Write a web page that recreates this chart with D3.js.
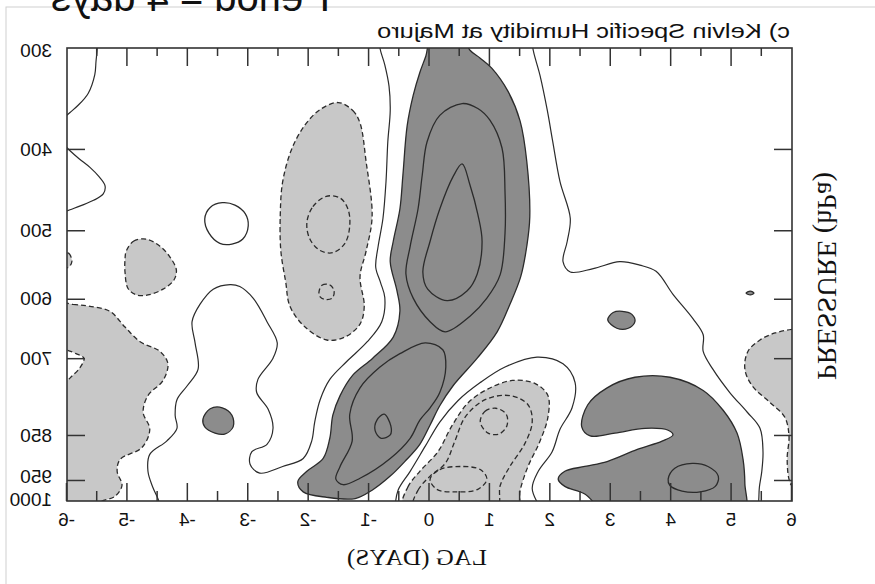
<!DOCTYPE html>
<html>
<head>
<meta charset="utf-8">
<script src="https://cdn.jsdelivr.net/npm/d3@7"></script>
<style>
  body { margin: 0; background: #fff; }
  svg { display: block; }
</style>
</head>
<body>
<svg id="chart" width="875" height="584"></svg>
<script>
// ---- axis values ----
const lagTicks = [-6, -5, -4, -3, -2, -1, 0, 1, 2, 3, 4, 5, 6];
const lagHalfTicks = [-5.5, -4.5, -3.5, -2.5, -1.5, -0.5, 0.5, 1.5, 2.5, 3.5, 4.5, 5.5];
const pressureTicks = [300, 400, 500, 600, 700, 850, 950, 1000];
const pressureInnerTicks = [400, 500, 600, 700, 850, 950];

// ---- contours, each point is [lag (days), pressure (hPa)] ----
// zero contours (solid, open lines)
const zeroWestTop = [[-5.50,292],[-5.50,300],[-5.52,312],[-5.54,324],[-5.65,342],[-5.82,354],[-5.95,361],[-6.08,368]];
const zeroWestBulge = [[-6.08,393],[-5.95,402],[-5.80,411],[-5.62,421],[-5.47,432],[-5.37,443],[-5.40,453],[-5.56,461],[-5.78,468],[-5.95,473],[-6.08,477]];
const zeroCentral = [[-0.82,292],[-0.82,300],[-0.74,315],[-0.67,335],[-0.65,359],[-0.69,392],[-0.72,438],[-0.77,484],[-0.85,522],[-0.89,552],[-0.81,575],[-0.74,598],[-0.79,637],[-1.03,671],[-1.37,706],[-1.65,739],[-1.81,778],[-1.90,823],[-1.95,863],[-2.09,901],[-2.43,919],[-2.81,934],[-2.97,914],[-2.94,886],[-2.69,870],[-2.59,836],[-2.67,797],[-2.86,764],[-2.84,739],[-2.59,700],[-2.52,673],[-2.69,637],[-2.92,599],[-3.14,581],[-3.30,578],[-3.58,585],[-3.80,609],[-3.93,637],[-3.88,673],[-3.83,720],[-4.01,751],[-4.18,778],[-4.21,809],[-4.18,836],[-4.35,863],[-4.63,892],[-4.66,930],[-4.58,967],[-4.49,996],[-4.46,1015]];
const zeroEast = [[1.71,292],[1.71,300],[1.83,325],[1.95,359],[2.04,392],[2.16,438],[2.33,484],[2.28,515],[2.21,544],[2.33,559],[2.71,554],[3.15,544],[3.48,549],[3.75,558],[4.03,593],[4.36,632],[4.53,659],[4.53,688],[4.69,720],[4.97,764],[5.26,803],[5.47,836],[5.52,886],[5.50,930],[5.46,967],[5.45,996],[5.44,1015]];
const zeroLower = [[-0.57,1015],[-0.52,974],[-0.32,930],[-0.07,874],[0.17,823],[0.47,780],[0.84,745],[1.25,716],[1.78,698],[2.21,710],[2.41,745],[2.36,794],[2.16,838],[2.03,886],[1.80,930],[1.70,970],[1.83,1015]];
const zeroRing = [[-3.72,485],[-3.63,470],[-3.43,464],[-3.22,467],[-3.05,478],[-3.00,494],[-3.09,512],[-3.27,519],[-3.47,518],[-3.65,504]];

// negative regions (light shading, dashed outline)
const dryWestEdge = [[-6.3,606],[-5.9,609],[-5.62,612],[-5.29,620],[-5.04,646],[-4.79,671],[-4.46,688],[-4.33,710],[-4.41,741],[-4.66,770],[-4.74,803],[-4.63,838],[-4.76,877],[-5.12,903],[-5.17,930],[-5.09,963],[-5.21,989],[-5.45,1003],[-5.6,1030],[-6.3,1030]];
const dryWestBlob = [[-5.02,529],[-4.90,515],[-4.69,512],[-4.46,522],[-4.29,538],[-4.19,556],[-4.23,571],[-4.41,585],[-4.66,594],[-4.85,594],[-4.99,584],[-5.04,559],[-5.04,541]];
const dryWestNub = [[-6.1,530],[-5.97,532],[-5.93,538],[-5.92,544],[-5.95,550],[-6.0,553],[-6.1,555]];
const dryUpper = [[-1.51,351],[-1.27,359],[-1.15,372],[-1.05,414],[-0.95,482],[-1.05,529],[-1.15,566],[-1.08,612],[-1.15,641],[-1.40,663],[-1.70,668],[-2.06,646],[-2.31,612],[-2.38,574],[-2.46,529],[-2.47,479],[-2.43,438],[-2.28,400],[-2.06,374],[-1.81,358]];
const dryLower = [[-0.44,1015],[-0.36,967],[-0.16,930],[0.14,886],[0.37,831],[0.64,784],[0.97,757],[1.37,741],[1.75,747],[1.96,770],[1.96,813],[1.83,863],[1.63,919],[1.50,974],[1.45,1017],[0.5,1035]];
const dryEastEdge = [[6.3,648],[6.0,650],[5.72,656],[5.47,668],[5.27,688],[5.22,720],[5.34,751],[5.64,784],[5.88,813],[5.95,852],[5.92,901],[5.95,948],[6.0,963],[6.3,965]];
// unshaded notch inside the western dry region
const dryWestNotch = [[-6.1,684],[-5.99,686],[-5.85,692],[-5.72,700],[-5.79,718],[-5.92,733],[-6.0,741],[-6.1,743]];
// deeper negative contours (dashed)
const dryUpperCore = [[-2.03,490],[-1.93,469],[-1.71,456],[-1.48,458],[-1.35,472],[-1.32,494],[-1.40,518],[-1.60,531],[-1.81,528],[-1.98,512]];
const dryUpperSpot = [[-1.83,590],[-1.78,579],[-1.66,578],[-1.58,587],[-1.61,599],[-1.73,601],[-1.81,597]];
const dryLowerMid = [[-0.27,1017],[-0.19,974],[0.01,941],[0.26,912],[0.42,863],[0.59,813],[0.92,778],[1.33,770],[1.63,788],[1.70,823],[1.58,868],[1.33,919],[1.17,963],[1.12,1017],[0.42,1035]];
const dryLowerCore = [[0.84,823],[0.92,801],[1.10,795],[1.27,807],[1.28,831],[1.15,848],[0.97,846]];
const dryLowerBase = [[0.01,948],[0.17,926],[0.51,919],[0.84,926],[0.95,948],[0.80,972],[0.42,978],[0.12,972]];

// positive regions (dark shading, solid outline)
const moistMain = [[-0.06,307],[0.04,290],[0.54,290],[0.67,302],[0.84,309],[1.03,318],[1.30,340],[1.50,370],[1.61,414],[1.66,482],[1.61,522],[1.51,566],[1.33,609],[1.12,654],[0.79,700],[0.39,751],[0.17,790],[0.01,829],[-0.16,870],[-0.41,908],[-0.65,941],[-0.95,974],[-1.23,994],[-1.70,991],[-2.09,978],[-2.18,954],[-2.03,930],[-1.76,901],[-1.65,857],[-1.60,809],[-1.48,770],[-1.27,731],[-0.94,700],[-0.60,663],[-0.49,620],[-0.54,587],[-0.65,544],[-0.60,515],[-0.49,472],[-0.44,430],[-0.37,375],[-0.27,344],[-0.16,322]];
const moistWestSpot = [[-3.75,817],[-3.63,796],[-3.43,794],[-3.27,809],[-3.25,833],[-3.39,848],[-3.55,846],[-3.72,833]];
const moistEastSpot = [[2.95,634],[3.04,622],[3.19,620],[3.35,625],[3.40,637],[3.29,648],[3.10,648]];
const moistEastSpeck = [[5.24,591],[5.31,588],[5.37,591],[5.31,594]];
const moistHook = [[2.13,948],[2.24,930],[2.57,919],[2.94,908],[3.44,881],[3.85,863],[4.03,850],[3.95,840],[3.57,836],[3.07,846],[2.66,852],[2.52,833],[2.62,788],[2.94,755],[3.40,735],[3.98,735],[4.53,760],[4.86,799],[5.09,846],[5.19,903],[5.22,959],[5.2,1030],[2.95,1030],[2.57,983],[2.24,965]];
// higher positive contours (solid)
const moistUpperRing = [[0.54,352],[0.80,357],[1.00,369],[1.20,399],[1.25,451],[1.25,504],[1.17,563],[0.95,599],[0.67,628],[0.26,654],[0.01,637],[-0.27,599],[-0.39,562],[-0.32,522],[-0.19,472],[-0.12,430],[-0.04,392],[0.17,364]];
const moistUpperCore = [[0.54,417],[0.67,442],[0.80,479],[0.87,515],[0.79,562],[0.62,588],[0.29,603],[-0.03,585],[-0.11,559],[0.01,515],[0.17,472],[0.39,432]];
const moistArmRing = [[0.22,685],[0.27,716],[0.17,764],[0.01,794],[-0.16,819],[-0.32,857],[-0.65,901],[-1.15,946],[-1.43,961],[-1.55,948],[-1.48,919],[-1.28,863],[-1.32,807],[-1.15,755],[-0.82,716],[-0.49,692],[-0.07,673]];
const moistArmCore = [[-0.75,807],[-0.64,831],[-0.65,850],[-0.80,857],[-0.90,841],[-0.87,819]];
const moistHookRing = [[3.95,948],[4.06,923],[4.35,912],[4.61,919],[4.78,941],[4.73,965],[4.48,978],[4.18,976],[3.98,963]];

// ---- layout ----
const W = 875, H = 584;
const plot = { left: 83, right: 808, top: 48, bottom: 501 };
const x = d3.scaleLinear().domain([-6, 6]).range([plot.right, plot.left]);
const y = d3.scalePow().exponent(0.15).domain([300, 1000]).range([plot.top, plot.bottom]);

const LIGHT = "#c8c8c8", DARK = "#8c8c8c", INK = "#2b2b2b";

const svg = d3.select("#chart");
// the whole figure is drawn as a mirror image
const g = svg.append("g").attr("transform", `translate(${W},0) scale(-1,1)`);

g.append("rect").attr("x", -10).attr("y", 7).attr("width", 879).attr("height", H + 20)
  .attr("fill", "none").attr("stroke", "#cfcfcf").attr("stroke-width", 1);

// heading of the panel group, running off the top of the page
g.append("text").attr("x", 545).attr("y", 11)
  .attr("font-family", "Liberation Sans, Arial, sans-serif").attr("font-size", 40)
  .attr("fill", "#111").text("Period = 4 days");

g.append("defs").append("clipPath").attr("id", "plotClip")
  .append("rect").attr("x", plot.left).attr("y", plot.top)
  .attr("width", plot.right - plot.left).attr("height", plot.bottom - plot.top);

const field = g.append("g").attr("clip-path", "url(#plotClip)");
const closedLine = d3.line().x(d => x(d[0])).y(d => y(d[1])).curve(d3.curveCatmullRomClosed.alpha(0.5));
const openLine = d3.line().x(d => x(d[0])).y(d => y(d[1])).curve(d3.curveCatmullRom.alpha(0.5));

function region(pts, fill, dashed) {
  field.append("path").attr("d", closedLine(pts)).attr("fill", fill)
    .attr("stroke", INK).attr("stroke-width", 1.3)
    .attr("stroke-dasharray", dashed ? "5,3" : null);
}
function ring(pts, dashed) {
  field.append("path").attr("d", closedLine(pts)).attr("fill", "none")
    .attr("stroke", INK).attr("stroke-width", 1.3)
    .attr("stroke-dasharray", dashed ? "5,3" : null);
}
function curve(pts) {
  field.append("path").attr("d", openLine(pts)).attr("fill", "none")
    .attr("stroke", INK).attr("stroke-width", 1.2);
}

// shaded negative areas
[dryWestEdge, dryWestBlob, dryWestNub, dryUpper, dryLower, dryEastEdge].forEach(p => region(p, LIGHT, true));
region(dryWestNotch, "#fff", true);
[dryUpperCore, dryUpperSpot, dryLowerMid, dryLowerCore, dryLowerBase].forEach(p => ring(p, true));
// shaded positive areas
[moistMain, moistWestSpot, moistEastSpot, moistEastSpeck, moistHook].forEach(p => region(p, DARK, false));
[moistUpperRing, moistUpperCore, moistArmRing, moistArmCore, moistHookRing].forEach(p => ring(p, false));
// zero lines
[zeroWestTop, zeroWestBulge, zeroCentral, zeroEast, zeroLower].forEach(curve);
ring(zeroRing, false);

// ---- axes ----
const axisStyle = sel => {
  sel.select(".domain").remove();
  sel.selectAll(".tick line").attr("stroke", "#333").attr("stroke-width", 1.5);
  sel.selectAll(".tick text").attr("fill", "#111")
    .attr("font-family", "Liberation Sans, Arial, sans-serif").attr("font-size", 19);
};
g.append("g").attr("transform", `translate(0,${plot.bottom})`)
  .call(d3.axisBottom(x).tickValues(lagTicks).tickSize(-18).tickPadding(12).tickFormat(d => String(d)))
  .call(axisStyle);
g.append("g").attr("transform", `translate(0,${plot.bottom})`)
  .call(d3.axisBottom(x).tickValues(lagHalfTicks).tickSize(-10).tickFormat(""))
  .call(axisStyle);
g.append("g").attr("transform", `translate(0,${plot.top})`)
  .call(d3.axisTop(x).tickValues(lagTicks.slice(1, -1)).tickSize(-18).tickFormat(""))
  .call(axisStyle);
g.append("g").attr("transform", `translate(0,${plot.top})`)
  .call(d3.axisTop(x).tickValues(lagHalfTicks).tickSize(-8).tickFormat(""))
  .call(axisStyle);
g.append("g").attr("transform", `translate(${plot.left},0)`)
  .call(d3.axisLeft(y).tickValues(pressureInnerTicks).tickSize(-18).tickFormat(""))
  .call(axisStyle);
g.append("g").attr("transform", `translate(${plot.right},0)`)
  .call(d3.axisRight(y).tickValues(pressureInnerTicks).tickSize(-18).tickFormat(""))
  .call(axisStyle);
const pLabels = g.append("g").attr("transform", `translate(${plot.right},0)`)
  .call(d3.axisRight(y).tickValues(pressureTicks).tickSize(0).tickPadding(15).tickFormat(d => String(d)))
  .call(axisStyle);
// the two lowest labels are nudged apart, the top one sits just below the corner
pLabels.selectAll(".tick text").filter(d => d === 950).attr("y", -4);
pLabels.selectAll(".tick text").filter(d => d === 1000).attr("y", -2);
pLabels.selectAll(".tick text").filter(d => d === 300).attr("y", 2);

g.append("rect").attr("x", plot.left).attr("y", plot.top)
  .attr("width", plot.right - plot.left).attr("height", plot.bottom - plot.top)
  .attr("fill", "none").attr("stroke", "#333").attr("stroke-width", 1.6);

// ---- titles ----
g.append("text").attr("x", 85).attr("y", 38)
  .attr("font-family", "Liberation Sans, Arial, sans-serif").attr("font-size", 19.5)
  .attr("textLength", 413).attr("lengthAdjust", "spacingAndGlyphs")
  .attr("fill", "#111").text("c) Kelvin Specific Humidity at Majuro");

g.append("text").attr("x", 458).attr("y", 565).attr("text-anchor", "middle")
  .attr("font-family", "Liberation Serif, Times New Roman, serif").attr("font-size", 24)
  .attr("textLength", 140).attr("lengthAdjust", "spacingAndGlyphs")
  .attr("fill", "#111").text("LAG (DAYS)");

g.append("text").attr("transform", "translate(57,276) rotate(-90)").attr("text-anchor", "middle")
  .attr("font-family", "Liberation Serif, Times New Roman, serif").attr("font-size", 27)
  .attr("textLength", 208).attr("lengthAdjust", "spacingAndGlyphs")
  .attr("fill", "#111").text("PRESSURE (hPa)");
</script>
</body>
</html>
